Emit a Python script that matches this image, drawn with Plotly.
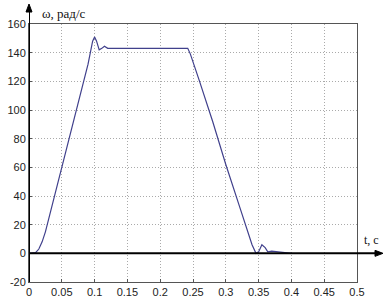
import plotly.graph_objects as go

# time, s
t = [0, 0.005, 0.01, 0.015, 0.02, 0.025, 0.03, 0.04, 0.05, 0.06, 0.07, 0.08, 0.09,
     0.097, 0.1, 0.103, 0.107, 0.111, 0.115, 0.12, 0.13, 0.2, 0.242, 0.246, 0.25,
     0.26, 0.28, 0.3, 0.32, 0.34, 0.346, 0.35, 0.355, 0.36, 0.364, 0.37, 0.38, 0.39, 0.4]
# angular speed, rad/s
omega = [0, 0, 0.5, 3, 8, 15, 24, 42, 60, 78, 96, 114, 132,
         148, 151, 148, 142, 143, 144.5, 143, 143, 143, 143, 139, 134,
         120, 92, 62, 34, 6, 0, 1, 6, 4, 1, 1.5, 1, 0.5, 0]

x_ticks = [0, 0.05, 0.1, 0.15, 0.2, 0.25, 0.3, 0.35, 0.4, 0.45, 0.5]
x_tick_text = ["0", "0.05", "0.1", "0.15", "0.2", "0.25", "0.3", "0.35", "0.4", "0.45", "0.5"]
y_ticks = [-20, 0, 20, 40, 60, 80, 100, 120, 140, 160]
y_tick_text = ["-20", "0", "20", "40", "60", "80", "100", "120", "140", "160"]

L, R, T, B = 29, 28, 24, 18
W, H = 385, 300
pw, ph = W - L - R, H - T - B

fig = go.Figure()
fig.add_trace(go.Scatter(x=t, y=omega, mode="lines",
                         line=dict(color="#40408c", width=1.2), hoverinfo="skip"))

tickfont = dict(family="Liberation Sans, Arial, sans-serif", size=11, color="#222")
common = dict(showgrid=True, gridcolor="#aaaaaa", griddash="1px,2px", gridwidth=1,
              zeroline=False, showline=True, linecolor="#555", linewidth=1,
              mirror=True, ticks="inside", ticklen=3, tickcolor="#555",
              tickfont=tickfont, automargin=False)
fig.update_layout(
    width=W, height=H, margin=dict(l=L, r=R, t=T, b=B, autoexpand=False),
    paper_bgcolor="white", plot_bgcolor="white", showlegend=False,
    xaxis=dict(range=[0, 0.5], tickvals=x_ticks, ticktext=x_tick_text, **common),
    yaxis=dict(range=[-20, 160], tickvals=y_ticks, ticktext=y_tick_text, **common),
)

# axis lines (black) : y axis at t=0 and zero line, with arrows
fig.add_shape(type="line", xref="x", yref="paper", x0=0, x1=0, y0=0, y1=1 + 14 / ph,
              line=dict(color="black", width=2))
fig.add_shape(type="line", xref="paper", yref="y", x0=0, x1=1 + 20 / pw, y0=0, y1=0,
              line=dict(color="black", width=2))
# arrow heads (paper coords)
ux, uy = 1 / pw, 1 / ph
x0p = 0.0
fig.add_shape(type="path", xref="paper", yref="paper",
              path=f"M {x0p - 3*ux} {1 + 12*uy} L {x0p + 3*ux} {1 + 12*uy} L {x0p} {1 + 20*uy} Z",
              fillcolor="black", line=dict(color="black", width=1))
y0p = 20 / 180
fig.add_shape(type="path", xref="paper", yref="paper",
              path=f"M {1 + 18*ux} {y0p - 3*uy} L {1 + 18*ux} {y0p + 3*uy} L {1 + 26*ux} {y0p} Z",
              fillcolor="black", line=dict(color="black", width=1))

labelfont = dict(family="Liberation Serif, Times New Roman, serif", size=13, color="#111")
fig.add_annotation(x=11 / pw, xref="paper", y=1 + 10 / ph, yref="paper",
                   xanchor="left", yanchor="middle", showarrow=False,
                   text="ω, рад/с", font=labelfont)
fig.add_annotation(x=1 + 5 / pw, xref="paper", y=0, yref="y", yshift=13,
                   xanchor="left", yanchor="middle", showarrow=False,
                   text="t, c", font=dict(family=labelfont["family"], size=12, color="#111"))

fig.write_html("out.html", config={"displayModeBar": False},
               post_script="document.body.style.margin='0';")
